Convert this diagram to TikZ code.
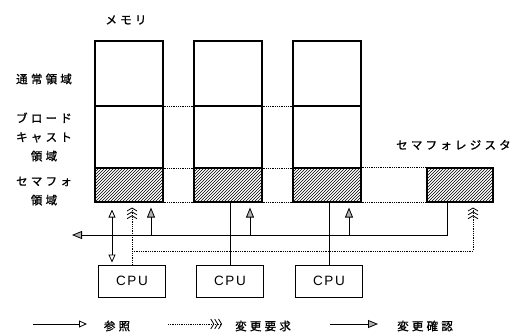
\documentclass[tikz,border=0pt]{standalone}
\usepackage{fontspec}
\usetikzlibrary{arrows.meta, patterns}
\newfontfamily\jp[LetterSpace=28, FakeBold=1.2]{Noto Sans CJK JP}
\newfontfamily\cpufont[LetterSpace=12]{Liberation Sans}

\begin{document}
\begin{tikzpicture}[x=1pt, y=-1pt,
	region/.style={draw, line width=1.1pt, minimum width=68pt, inner sep=0pt},
	sema/.style={region, minimum height=34pt, pattern=north east lines},
	cpubox/.style={draw, line width=0.9pt, minimum width=67pt, minimum height=32pt, font=\cpufont\fontsize{13.5}{15}\selectfont},
	lbl/.style={font=\jp\fontsize{11.5}{19}\selectfont, align=center, inner sep=0pt},
	link/.style={densely dotted, line width=0.8pt},
	plain/.style={line width=0.8pt},
	reftip/.tip={Triangle[open, length=8pt, width=7pt]},
	reqtip/.tip={Straight Barb[length=3pt, width=10pt] Straight Barb[length=3pt, width=10pt] Straight Barb[length=3pt, width=10pt]},
	conftip/.tip={Triangle[fill=gray!60, length=10pt, width=8pt]}]
	\useasboundingbox (0,0) rectangle (521,336);

	%memory columns
	\foreach \i/\x in {1/129, 2/228, 3/327} {
		\node[region, minimum height=65pt] (n\i) at (\x, 73.5) {};
		\node[region, minimum height=62pt] (b\i) at (\x, 137) {};
		\node[sema] (s\i) at (\x, 185) {};
	}
	\node[sema, minimum width=66pt] (reg) at (460, 185) {};

	%dotted links between areas
	\foreach \i/\j in {1/2, 2/3} {
		\draw[link] (n\i.south east) -- (n\j.south west);
		\draw[link] (b\i.south east) -- (b\j.south west);
		\draw[link] (s\i.south east) -- (s\j.south west);
	}
	\draw[link] (s3.north east) -- (reg.north west);
	\draw[link] (s3.south east) -- (reg.south west);

	%labels
	\node[lbl] (mem) at (126, 20) {メモリ};
	\node[lbl] (lnorm) at (44, 79) {通常領域};
	\node[lbl] (lbc) at (44, 137) {ブロード\\キャスト\\領域};
	\node[lbl] (lsem) at (44, 191) {セマフォ\\領域};
	\node[lbl, anchor=west] (lreg) at (396, 145) {セマフォレジスタ};

	%CPUs
	\node[cpubox] (cpu1) at (132, 281) {CPU};
	\node[cpubox] (cpu2) at (230, 281) {CPU};
	\node[cpubox] (cpu3) at (329, 281) {CPU};

	%confirm bus
	\coordinate (cbus) at (72, 235);
	\draw[plain, -conftip] ([xshift=-13pt]reg.south) |- (cbus);
	\foreach \i in {1,2,3}
		\draw[plain, -conftip, shorten >=5pt] ([xshift=22pt]s\i.south |- cbus) -- ([xshift=22pt]s\i.south);

	%request lines
	\coordinate (rbus) at (132, 251);
	\draw[link, -reqtip, shorten >=5pt] (cpu1.north) -- (cpu1.north |- s1.south);
	\draw[link, -reqtip, shorten >=5pt] (cpu1.north |- rbus) -| ([xshift=13pt]reg.south);

	%reference
	\draw[plain, reftip-reftip, shorten >=7pt, shorten <=2pt] ([xshift=-20pt]cpu1.north) -- ([xshift=-20pt]cpu1.north |- s1.south);
	\draw[plain] (cpu2.north) -- (cpu2.north |- s2.south);
	\draw[plain] (cpu3.north) -- (cpu3.north |- s3.south);

	%legend
	\coordinate (k1a) at (33, 324); \coordinate (k1b) at (87, 324);
	\draw[plain, -reftip] (k1a) -- (k1b);
	\node[lbl] (k1) at (117, 326) {参照};
	\coordinate (k2a) at (168, 324); \coordinate (k2b) at (222, 324);
	\draw[link, -reqtip] (k2a) -- (k2b);
	\node[lbl, anchor=west] (k2) at (235, 326) {変更要求};
	\coordinate (k3a) at (330, 324); \coordinate (k3b) at (378, 324);
	\draw[plain, -conftip] (k3a) -- (k3b);
	\node[lbl, anchor=west] (k3) at (397, 326) {変更確認};
\end{tikzpicture}
\end{document}
